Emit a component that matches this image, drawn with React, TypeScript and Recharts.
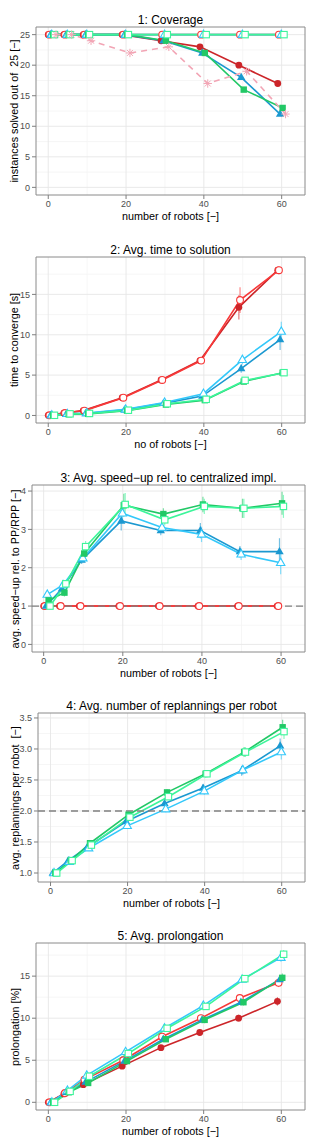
import React from "react";
import {
  LineChart,
  Line,
  XAxis,
  YAxis,
  CartesianGrid,
  ReferenceArea,
  ErrorBar,
} from "recharts";

const robots = [1, 5, 10, 20, 30, 40, 50, 60];

// dodge offsets on the x axis, per algorithm
const dodge = { pp: -1.0, rpp: -0.7, sdpp: -0.4, sdrpp: -0.1, adpp: 0.25, adrpp: 0.6, orca: 1.0 };

// 1: coverage
const covPP = [25, 25, 25, 25, 24, 23, 20, 17];
const covRPP = [25, 25, 25, 25, 25, 25, 25, 25];
const covSDPP = [25, 25, 25, 25, 24, 22, 18, 12];
const covSDRPP = [25, 25, 25, 25, 25, 25, 25, 25];
const covADPP = [25, 25, 25, 25, 24, 22, 16, 13];
const covADRPP = [25, 25, 25, 25, 25, 25, 25, 25];
const covORCA = [25, 25, 24, 22, 23, 17, 19, 12];

// 2: time to solution [s]
const timePP = [0.02, 0.3, 0.6, 2.2, 4.4, 6.8, 13.4, 18.0];
const timeRPP = [0.02, 0.3, 0.6, 2.2, 4.4, 6.8, 14.3, 18.0];
const timeSDPP = [0.02, 0.15, 0.25, 0.7, 1.5, 2.4, 5.8, 9.4];
const timeSDRPP = [0.02, 0.2, 0.3, 0.75, 1.6, 2.7, 6.9, 10.4];
const timeADPP = [0.02, 0.15, 0.2, 0.6, 1.35, 1.9, 4.2, 5.3];
const timeADRPP = [0.02, 0.2, 0.25, 0.65, 1.45, 2.0, 4.35, 5.3];
const timeErrPP = [0, 0, 0.05, 0.15, 0.2, 0.3, 1.5, 0.4];
const timeErrRPP = [0, 0, 0.05, 0.15, 0.2, 0.3, 1.6, 0.5];
const timeErrSDPP = [0, 0, 0, 0.05, 0.1, 0.2, 0.5, 1.3];
const timeErrSDRPP = [0, 0, 0, 0.05, 0.1, 0.25, 0.6, 1.2];
const timeErrADPP = [0, 0, 0, 0.05, 0.1, 0.1, 0.25, 0.3];
const timeErrADRPP = [0, 0, 0, 0.05, 0.1, 0.1, 0.25, 0.3];

// 3: speed-up
const spPP = [1, 1, 1, 1, 1, 1, 1, 1];
const spRPP = [1, 1, 1, 1, 1, 1, 1, 1];
const spSDPP = [1.0, 1.45, 2.2, 3.22, 2.97, 2.97, 2.42, 2.42];
const spSDRPP = [1.3, 1.55, 2.25, 3.42, 3.05, 2.87, 2.35, 2.13];
const spADPP = [1.15, 1.35, 2.37, 3.63, 3.4, 3.65, 3.55, 3.68];
const spADRPP = [1.0, 1.58, 2.55, 3.65, 3.25, 3.6, 3.55, 3.6];
const spErrSDPP = [0.05, 0.1, 0.1, 0.25, 0.12, 0.2, 0.15, 0.35];
const spErrSDRPP = [0.05, 0.1, 0.1, 0.25, 0.12, 0.2, 0.15, 0.3];
const spErrADPP = [0.05, 0.1, 0.15, 0.3, 0.15, 0.2, 0.25, 0.3];
const spErrADRPP = [0.05, 0.1, 0.15, 0.3, 0.15, 0.2, 0.25, 0.3];

// 4: replannings per robot
const rpSDPP = [1.0, 1.2, 1.42, 1.83, 2.12, 2.37, 2.65, 3.05];
const rpSDRPP = [1.0, 1.18, 1.4, 1.76, 2.03, 2.32, 2.66, 2.95];
const rpADPP = [1.0, 1.2, 1.48, 1.94, 2.3, 2.6, 2.95, 3.35];
const rpADRPP = [1.0, 1.2, 1.45, 1.9, 2.23, 2.6, 2.95, 3.28];
const rpErr = [0, 0.02, 0.03, 0.05, 0.05, 0.06, 0.08, 0.12];

// 5: prolongation [%]
const prPP = [0, 1.0, 2.1, 4.3, 6.5, 8.3, 10.0, 12.0];
const prRPP = [0, 1.1, 2.7, 5.0, 7.8, 10.0, 12.4, 14.2];
const prSDPP = [0, 1.2, 2.4, 4.9, 7.5, 9.8, 11.9, 14.6];
const prSDRPP = [0, 1.4, 3.2, 6.0, 8.8, 11.5, 14.6, 17.2];
const prADPP = [0, 1.2, 2.3, 4.9, 7.5, 9.8, 11.9, 14.8];
const prADRPP = [0, 1.3, 3.1, 5.8, 8.8, 11.4, 14.7, 17.6];
const prErr = [0, 0.1, 0.2, 0.3, 0.3, 0.4, 0.4, 0.5];

type Alg = keyof typeof dodge;
type Shape = "dot" | "circle" | "tri" | "triOpen" | "sq" | "sqOpen" | "star";

const look: Record<Alg, { color: string; shape: Shape }> = {
  pp: { color: "#CC2529", shape: "dot" },
  rpp: { color: "#F83838", shape: "circle" },
  sdpp: { color: "#1B98D0", shape: "tri" },
  sdrpp: { color: "#33C8FA", shape: "triOpen" },
  adpp: { color: "#22C866", shape: "sq" },
  adrpp: { color: "#3CF59A", shape: "sqOpen" },
  orca: { color: "#F2A5B5", shape: "star" },
};

interface Series {
  id: Alg;
  values: number[];
  err?: number[];
  dashed?: boolean;
}

function Marker({ cx, cy, shape, color }: { cx?: number; cy?: number; shape: Shape; color: string }) {
  if (cx == null || cy == null) return null;
  const w = 1.1;
  switch (shape) {
    case "dot":
      return <circle cx={cx} cy={cy} r={3.4} fill={color} />;
    case "circle":
      return <circle cx={cx} cy={cy} r={3.4} fill="#fff" stroke={color} strokeWidth={w} />;
    case "tri":
    case "triOpen": {
      const pts = `${cx},${cy - 4.6} ${cx - 4.2},${cy + 2.7} ${cx + 4.2},${cy + 2.7}`;
      return shape === "tri" ? (
        <polygon points={pts} fill={color} />
      ) : (
        <polygon points={pts} fill="#fff" stroke={color} strokeWidth={w} />
      );
    }
    case "sq":
      return <rect x={cx - 3.2} y={cy - 3.2} width={6.4} height={6.4} fill={color} />;
    case "sqOpen":
      return <rect x={cx - 3.2} y={cy - 3.2} width={6.4} height={6.4} fill="#fff" stroke={color} strokeWidth={w} />;
    case "star": {
      const r = 4.2;
      const d = r * 0.707;
      return (
        <g stroke={color} strokeWidth={1}>
          <line x1={cx - r} y1={cy} x2={cx + r} y2={cy} />
          <line x1={cx} y1={cy - r} x2={cx} y2={cy + r} />
          <line x1={cx - d} y1={cy - d} x2={cx + d} y2={cy + d} />
          <line x1={cx - d} y1={cy + d} x2={cx + d} y2={cy - d} />
        </g>
      );
    }
  }
  return null;
}

interface PanelProps {
  title: string;
  xLabel: string;
  yLabel: string;
  plotTop: number;
  plotBottom: number;
  plotLeft: number;
  xDomain: [number, number];
  yDomain: [number, number];
  yTicks: number[];
  yMinor: number[];
  yFmt?: (v: number) => string;
  series: Series[];
  hline?: number;
}

const plotRight = 305;
const xTicks = [0, 20, 40, 60];
const xMinor = [10, 30, 50];
const font = "'Liberation Sans', Arial, Helvetica, sans-serif";

function Panel(p: PanelProps) {
  const t = p.plotTop - 30;
  const H = p.plotBottom - t + 32;
  const plotW = plotRight - p.plotLeft;
  const plotH = p.plotBottom - p.plotTop;
  const rows = p.series.map((s) =>
    robots.map((r, i) => ({ x: r + dodge[s.id], y: s.values[i], e: s.err ? s.err[i] : 0 }))
  );
  // reference level spans the whole panel, drawn over the lines like geom_hline
  const hlineRows =
    p.hline != null
      ? [
          { x: p.xDomain[0], y: p.hline },
          { x: p.xDomain[1], y: p.hline },
        ]
      : [];
  return (
    <>
      <div style={{ position: "absolute", left: 0, top: t, width: 318, height: H }}>
        <LineChart width={318} height={H} margin={{ top: 30, right: 318 - plotRight, left: 0, bottom: 12 }}>
          <CartesianGrid
            horizontalValues={p.yMinor}
            verticalValues={xMinor}
            stroke="#f4f4f4"
            strokeWidth={0.8}
          />
          <CartesianGrid
            horizontalValues={p.yTicks}
            verticalValues={xTicks}
            stroke="#e6e6e6"
            strokeWidth={0.9}
          />
          <XAxis
            type="number"
            dataKey="x"
            domain={p.xDomain}
            ticks={xTicks}
            allowDataOverflow
            height={20}
            axisLine={false}
            tickSize={4}
            tickLine={{ stroke: "#7f7f7f" }}
            tick={{ fill: "#4d4d4d", fontSize: 9 }}
          />
          <YAxis
            type="number"
            domain={p.yDomain}
            ticks={p.yTicks}
            allowDataOverflow
            width={p.plotLeft}
            axisLine={false}
            tickSize={4}
            tickLine={{ stroke: "#7f7f7f" }}
            tick={{ fill: "#4d4d4d", fontSize: 9 }}
            tickFormatter={p.yFmt}
          />
          {p.series.map((s, k) => (
            <Line
              key={"l-" + s.id}
              data={rows[k]}
              dataKey="y"
              stroke={look[s.id].color}
              strokeWidth={1.6}
              strokeDasharray={s.dashed ? "6 5" : undefined}
              dot={false}
              activeDot={false}
              isAnimationActive={false}
            >
              {s.err && (
                <ErrorBar dataKey="e" direction="y" width={0} stroke={look[s.id].color + "99"} strokeWidth={1.2} />
              )}
            </Line>
          ))}
          {p.hline != null && (
            <Line
              data={hlineRows}
              dataKey="y"
              stroke="#808080"
              strokeWidth={1.3}
              strokeDasharray="7 4"
              dot={false}
              activeDot={false}
              isAnimationActive={false}
            />
          )}
          {p.series.map((s, k) => (
            <Line
              key={"p-" + s.id}
              data={rows[k]}
              dataKey="y"
              stroke="none"
              dot={(d: any) => (
                <Marker
                  key={`${s.id}-${d.index}`}
                  cx={d.cx}
                  cy={d.cy}
                  shape={look[s.id].shape}
                  color={look[s.id].color}
                />
              )}
              activeDot={false}
              isAnimationActive={false}
            />
          ))}
          <ReferenceArea
            x1={p.xDomain[0]}
            x2={p.xDomain[1]}
            y1={p.yDomain[0]}
            y2={p.yDomain[1]}
            fill="none"
            stroke="#8a8a8a"
            strokeWidth={1}
          />
        </LineChart>
      </div>
      <div
        style={{
          position: "absolute",
          left: p.plotLeft,
          width: plotW,
          top: p.plotTop - 7.5 - 8,
          lineHeight: "16px",
          fontSize: 12,
          textAlign: "center",
          whiteSpace: "pre",
        }}
      >
        {p.title}
      </div>
      <div
        style={{
          position: "absolute",
          left: p.plotLeft,
          width: plotW,
          top: p.plotBottom + 20.5 - 7,
          lineHeight: "14px",
          fontSize: 10.8,
          textAlign: "center",
          whiteSpace: "pre",
        }}
      >
        {p.xLabel}
      </div>
      <div
        style={{
          position: "absolute",
          left: 14 - plotH / 2,
          width: plotH,
          top: (p.plotTop + p.plotBottom) / 2 - 7,
          lineHeight: "14px",
          fontSize: 10.8,
          textAlign: "center",
          whiteSpace: "pre",
          transform: "rotate(-90deg)",
        }}
      >
        {p.yLabel}
      </div>
    </>
  );
}

export default function App() {
  return (
    <div
      style={{
        position: "absolute",
        left: 0,
        top: 0,
        width: 318,
        height: 1143,
        background: "#fff",
        fontFamily: font,
        color: "#000",
      }}
    >
      <Panel
        title="1: Coverage"
        xLabel="number of robots [−]"
        yLabel="instances solved out of  25 [−]"
        plotTop={27}
        plotBottom={195}
        plotLeft={36}
        xDomain={[-3.15, 66]}
        yDomain={[-1.25, 26.25]}
        yTicks={[0, 5, 10, 15, 20, 25]}
        yMinor={[2.5, 7.5, 12.5, 17.5, 22.5]}
        series={[
          { id: "pp", values: covPP },
          { id: "rpp", values: covRPP },
          { id: "sdpp", values: covSDPP },
          { id: "sdrpp", values: covSDRPP },
          { id: "adpp", values: covADPP },
          { id: "adrpp", values: covADRPP },
          { id: "orca", values: covORCA, dashed: true },
        ]}
      />
      <Panel
        title="2: Avg. time to solution"
        xLabel="no of robots [−]"
        yLabel="time to converge [s]"
        plotTop={257}
        plotBottom={423}
        plotLeft={36}
        xDomain={[-3.15, 66]}
        yDomain={[-0.935, 19.635]}
        yTicks={[0, 5, 10, 15]}
        yMinor={[2.5, 7.5, 12.5, 17.5]}
        series={[
          { id: "pp", values: timePP, err: timeErrPP },
          { id: "rpp", values: timeRPP, err: timeErrRPP },
          { id: "sdpp", values: timeSDPP, err: timeErrSDPP },
          { id: "sdrpp", values: timeSDRPP, err: timeErrSDRPP },
          { id: "adpp", values: timeADPP, err: timeErrADPP },
          { id: "adrpp", values: timeADRPP, err: timeErrADRPP },
        ]}
      />
      <Panel
        title="3: Avg. speed−up rel. to centralized impl."
        xLabel="number of robots [−]"
        yLabel="avg. speed−up rel. to PP/RPP [−]"
        plotTop={485}
        plotBottom={652}
        plotLeft={32}
        xDomain={[-2.95, 66.05]}
        yDomain={[-0.198, 4.158]}
        yTicks={[0, 1, 2, 3, 4]}
        yMinor={[0.5, 1.5, 2.5, 3.5]}
        hline={1}
        series={[
          { id: "pp", values: spPP },
          { id: "rpp", values: spRPP },
          { id: "sdpp", values: spSDPP, err: spErrSDPP },
          { id: "sdrpp", values: spSDRPP, err: spErrSDRPP },
          { id: "adpp", values: spADPP, err: spErrADPP },
          { id: "adrpp", values: spADRPP, err: spErrADRPP },
        ]}
      />
      <Panel
        title="4: Avg. number of replannings per robot"
        xLabel="number of robots [−]"
        yLabel="avg. replannings per robot  [−]"
        plotTop={713}
        plotBottom={882}
        plotLeft={38}
        xDomain={[-3.25, 66.05]}
        yDomain={[0.855, 3.58]}
        yTicks={[1, 1.5, 2, 2.5, 3, 3.5]}
        yMinor={[1.25, 1.75, 2.25, 2.75, 3.25]}
        yFmt={(v) => v.toFixed(1)}
        hline={2}
        series={[
          { id: "sdpp", values: rpSDPP, err: rpErr },
          { id: "sdrpp", values: rpSDRPP, err: rpErr },
          { id: "adpp", values: rpADPP, err: rpErr },
          { id: "adrpp", values: rpADRPP, err: rpErr },
        ]}
      />
      <Panel
        title="5: Avg. prolongation"
        xLabel="number of robots [−]"
        yLabel="prolongation [%]"
        plotTop={943}
        plotBottom={1110}
        plotLeft={36}
        xDomain={[-3.18, 66.1]}
        yDomain={[-0.915, 18.94]}
        yTicks={[0, 5, 10, 15]}
        yMinor={[2.5, 7.5, 12.5, 17.5]}
        series={[
          { id: "pp", values: prPP, err: prErr },
          { id: "rpp", values: prRPP, err: prErr },
          { id: "sdpp", values: prSDPP, err: prErr },
          { id: "sdrpp", values: prSDRPP, err: prErr },
          { id: "adpp", values: prADPP, err: prErr },
          { id: "adrpp", values: prADRPP, err: prErr },
        ]}
      />
    </div>
  );
}
